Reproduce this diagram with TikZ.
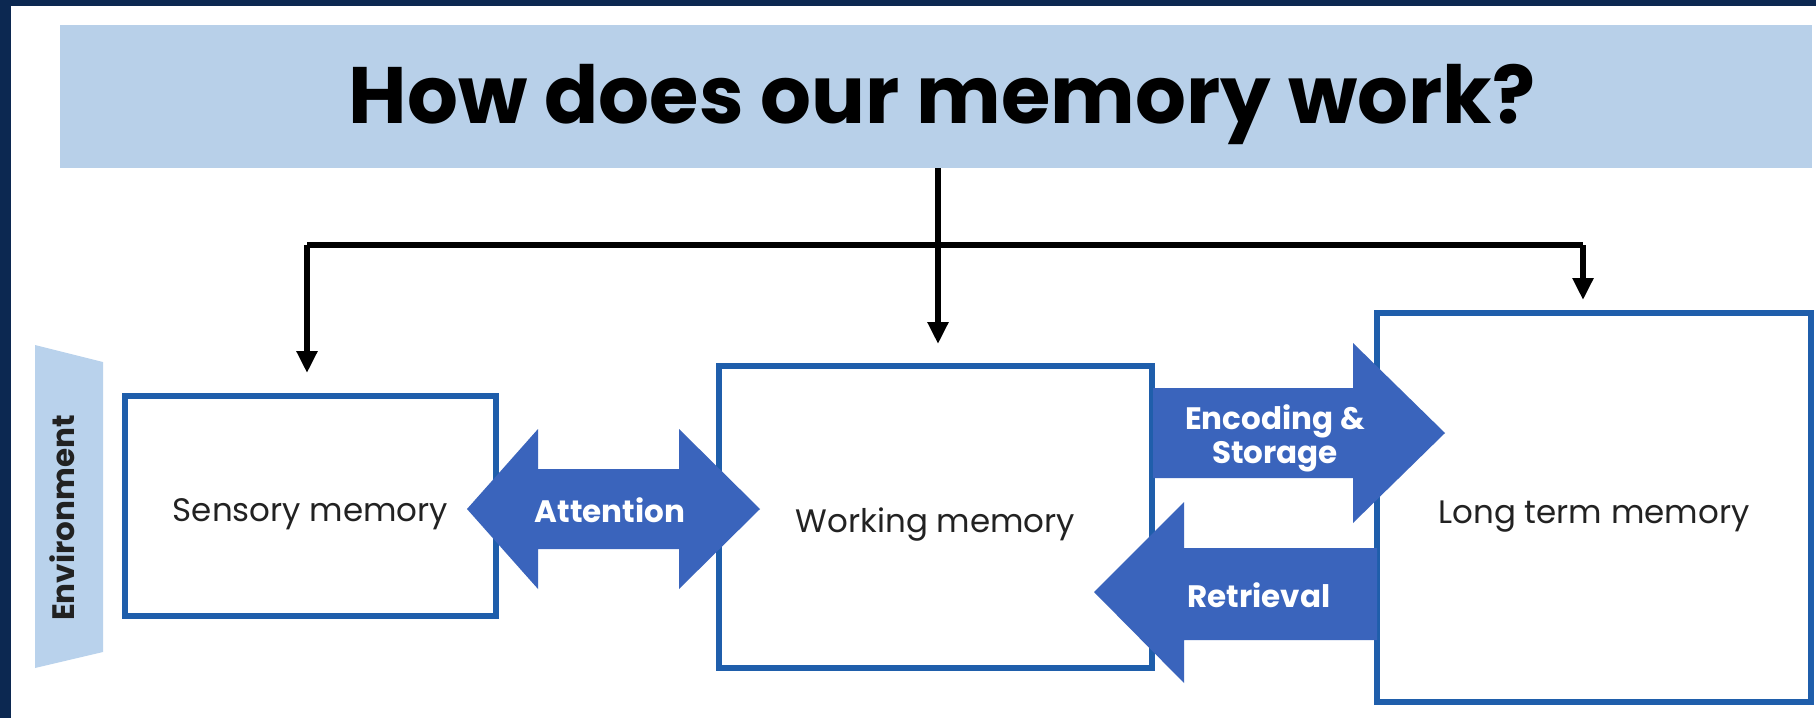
\documentclass[tikz,border=0pt]{standalone}
\usepackage{fontspec}
\setmainfont{Poppins}
\usetikzlibrary{arrows.meta,calc}
\definecolor{navy}{HTML}{0C2851}
\definecolor{band}{HTML}{B8D0E9}
\definecolor{envc}{HTML}{B9D2EC}
\definecolor{boxblue}{HTML}{1F5EAB}
\definecolor{arrowblue}{HTML}{3A64BC}
\definecolor{txt}{HTML}{222222}
\begin{document}
\begin{tikzpicture}[x=1pt,y=-1pt,
  membox/.style={draw=boxblue, line width=6pt, fill=white, inner sep=0pt,
    text height=31pt, text depth=0pt,
    font=\fontsize{32.5}{38}\selectfont, text=txt},
  conn/.style={line width=5.5pt, -{Triangle[width=20pt,length=22pt]}},
  plainline/.style={line width=5.5pt},
  blockarrow/.style={fill=arrowblue},
  arrowlabel/.style={text=white, font=\bfseries\fontsize{31}{36}\selectfont, align=center, inner sep=0pt}
]
\useasboundingbox (0,0) rectangle (1816,718);
\fill[navy] (0,0) rectangle (1816,718);
\fill[white] (11,6) rectangle (1816,718);

% title band
\node[fill=band, minimum width=1752pt, minimum height=143pt, inner sep=0pt] (title) at (936,96.5) {};
\node[font=\bfseries\fontsize{80}{86}\selectfont, text=black, inner sep=0pt] (titletext) at (942,104) {How does our memory work?};

% environment
\fill[envc] (35,345) -- (103,362) -- (103,652) -- (35,668) -- cycle;
\node[rotate=90, font=\bfseries\fontsize{31}{36}\selectfont, text=txt, inner sep=0pt] (env) at (62,518) {Environment};

% memory boxes
\node[membox, minimum width=371pt, minimum height=220pt] (sens) at (310.5,506) {Sensory memory};
\node[membox, minimum width=433pt, minimum height=302pt] (work) at (935.5,517) {Working memory};
\node[membox, minimum width=434pt, minimum height=389pt] (lt) at (1594,507.5) {Long term memory};

% connectors
\coordinate (j) at (938,245);
\coordinate (hl) at (307,245);
\coordinate (hr) at (1583,245);
\draw[plainline] (hl) -- (hr);
\draw[conn, shorten >=20pt] (hl) -- (hl |- sens.north);
\draw[conn, shorten >=10pt] (hr) -- (hr |- lt.north);
\draw[conn, shorten >=19pt] (title.south -| j) -- (j |- work.north);

% block arrows
\fill[blockarrow] (467,509) -- (538,429) -- (538,469) -- (679,469) -- (679,429) -- (760,509)
  -- (679,589) -- (679,549) -- (538,549) -- (538,589) -- cycle;
\node[arrowlabel] (att) at (610,510) {Attention};

\fill[blockarrow] (1153,388) -- (1353,388) -- (1353,343) -- (1445,433) -- (1353,523) -- (1353,478) -- (1153,478) -- cycle;
\node[arrowlabel] (enc) at (1275,438) {Encoding \&\\[-2pt]Storage};

\fill[blockarrow] (1377,548) -- (1184,548) -- (1184,502) -- (1094,592) -- (1184,683) -- (1184,640) -- (1377,640) -- cycle;
\node[arrowlabel] (ret) at (1259,595) {Retrieval};
\end{tikzpicture}
\end{document}
